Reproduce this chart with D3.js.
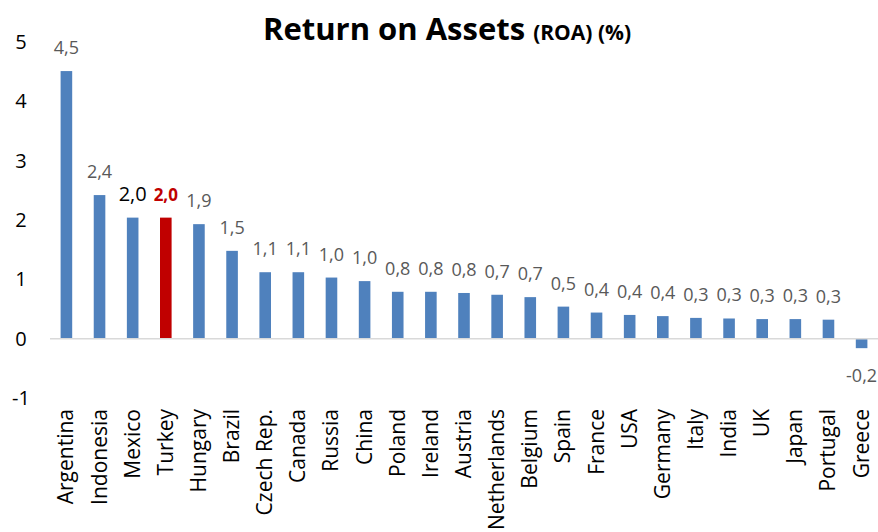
<!DOCTYPE html>
<html>
<head>
<meta charset="utf-8">
<script src="https://cdn.jsdelivr.net/npm/d3@7"></script>
<style>
  body { margin: 0; background: #fff; }
  svg { font-family: "Open Sans", "Noto Sans", sans-serif; }
</style>
</head>
<body>
<svg id="chart"></svg>
<script>
// ---------- data ----------
var countries = ["Argentina", "Indonesia", "Mexico", "Turkey", "Hungary", "Brazil", "Czech Rep.",
  "Canada", "Russia", "China", "Poland", "Ireland", "Austria", "Netherlands", "Belgium", "Spain",
  "France", "USA", "Germany", "Italy", "India", "UK", "Japan", "Portugal", "Greece"];
var roa = [4.51, 2.42, 2.04, 2.04, 1.93, 1.48, 1.12, 1.12, 1.03, 0.97, 0.79, 0.79, 0.77, 0.74,
  0.70, 0.54, 0.44, 0.40, 0.38, 0.35, 0.34, 0.33, 0.33, 0.32, -0.16];
var yTicks = [-1, 0, 1, 2, 3, 4, 5];

var screen = {width: 878, height: 532};
var svg = d3.select("#chart")
  .attr("width", screen.width)
  .attr("height", screen.height);

var xScale = d3.scaleBand()
  .domain(countries)
  .range([50, 878])
  .paddingInner(0.65)
  .paddingOuter(0.32);

var yScale = d3.scaleLinear()
  .domain([-1, 5])
  .range([398, 42]);

var fmt = function (v) { return v.toFixed(1).replace(".", ","); };

// ---------- y labels (no axis line) ----------
svg.append("g")
  .selectAll("text")
  .data(yTicks)
  .enter()
  .append("text")
  .attr("x", 21)
  .attr("y", function (d) { return yScale(d) + 7; })
  .attr("text-anchor", "middle")
  .attr("font-size", 20)
  .attr("fill", "#000")
  .text(function (d) { return d; });

// ---------- bars ----------
svg.append("g")
  .selectAll("rect")
  .data(roa)
  .enter()
  .append("rect")
  .attr("x", function (d, i) { return xScale(countries[i]); })
  .attr("width", xScale.bandwidth())
  .attr("y", function (d) { return yScale(Math.max(0, d)); })
  .attr("height", function (d) { return Math.abs(yScale(d) - yScale(0)); })
  .attr("fill", function (d, i) { return countries[i] == "Turkey" ? "#c00000" : "#4f81bd"; });

// zero line
svg.append("line")
  .attr("x1", 50).attr("x2", 878)
  .attr("y1", yScale(0)).attr("y2", yScale(0))
  .attr("stroke", "#d9d9d9")
  .attr("stroke-width", 1.5);

// ---------- value labels ----------
svg.append("g")
  .selectAll("text")
  .data(roa)
  .enter()
  .append("text")
  .attr("x", function (d, i) { return xScale(countries[i]) + xScale.bandwidth() / 2; })
  .attr("y", function (d) { return d >= 0 ? yScale(d) - 17 : yScale(d) + 34; })
  .attr("text-anchor", "middle")
  .attr("font-size", function (d, i) {
    if (countries[i] == "Mexico") return 20;
    if (countries[i] == "Turkey") return 17;
    return 18;
  })
  .attr("font-weight", function (d, i) { return countries[i] == "Turkey" ? "bold" : "normal"; })
  .attr("fill", function (d, i) {
    if (countries[i] == "Turkey") return "#c00000";
    if (countries[i] == "Mexico") return "#000";
    return "#595959";
  })
  .text(fmt);

// ---------- category labels ----------
svg.append("g")
  .selectAll("text")
  .data(countries)
  .enter()
  .append("text")
  .attr("transform", function (d) {
    return "translate(" + (xScale(d) + xScale.bandwidth() / 2 + 7) + ",409) rotate(-90)";
  })
  .attr("text-anchor", "end")
  .attr("font-size", 21)
  .attr("fill", "#000")
  .text(function (d) { return d; });

// ---------- title ----------
var title = svg.append("text")
  .attr("x", 447)
  .attr("y", 40)
  .attr("text-anchor", "middle")
  .attr("font-weight", "bold")
  .attr("fill", "#000");
title.append("tspan").attr("font-size", 31).text("Return on Assets ");
title.append("tspan").attr("font-size", 21).text("(ROA) (%)");
</script>
</body>
</html>
